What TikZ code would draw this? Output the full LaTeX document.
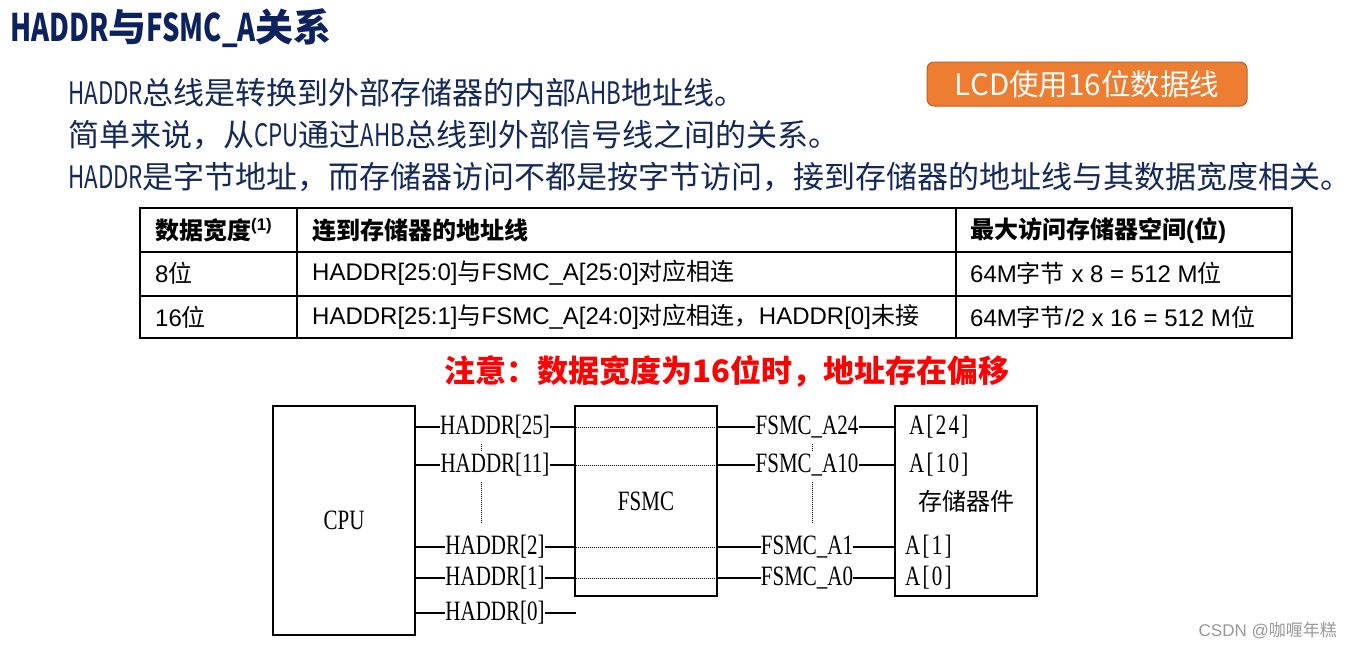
\documentclass[tikz,border=0pt]{standalone}
\usepackage{fontspec}
\setmainfont{Noto Sans CJK SC}
\newfontfamily\cjk{Noto Sans CJK SC}
\newfontfamily\latn[FakeStretch=0.72]{Noto Sans CJK SC}
\newfontfamily\tabfont{Liberation Sans}
\newfontfamily\sigfont[FakeStretch=0.75]{Liberation Serif}
\newcommand{\zh}[1]{{\cjk #1}}
\newcommand{\en}[1]{{\latn #1}}
\definecolor{titlenavy}{HTML}{0B225E}
\definecolor{bodynavy}{HTML}{14285A}
\definecolor{lcdorange}{HTML}{ED7D31}
\definecolor{lcdedge}{HTML}{B8612A}
\definecolor{notered}{HTML}{FF0000}
\usetikzlibrary{positioning}

\begin{document}
\begin{tikzpicture}[x=1pt, y=-1pt,
  heading/.style={anchor=west, inner sep=0pt, text=titlenavy, font=\bfseries\fontsize{38}{42}\selectfont},
  bodyline/.style={anchor=west, inner sep=0pt, text=bodynavy, font=\fontsize{31}{36}\selectfont},
  cell/.style={anchor=west, inner sep=0pt, font=\tabfont\fontsize{24}{28}\selectfont},
  unit/.style={draw, line width=1.3pt, minimum width=142pt, inner sep=0pt, font=\sigfont\fontsize{28}{30}\selectfont},
  sig/.style={inner sep=0pt, font=\sigfont\fontsize{28}{30}\selectfont},
  pin/.style={anchor=west, inner sep=0pt, font=\sigfont\fontsize{28}{30}\selectfont\addfontfeature{LetterSpace=8}},
  wire/.style={line width=1.2pt},
  dotwire/.style={densely dotted, line width=1pt}]
  \useasboundingbox (0,0) rectangle (1352,648);

  % heading and notes
  \node[heading] (title) at (10,28) {\en{HADDR}与\en{FSMC\_A}关系};
  \node[bodyline] (line1) at (68,93) {\en{HADDR}总线是转换到外部存储器的内部\en{AHB}地址线。};
  \node[bodyline] (line2) at (68,135) {简单来说，从\en{CPU}通过\en{AHB}总线到外部信号线之间的关系。};
  \node[bodyline] (line3) at (68,177) {\en{HADDR}是字节地址，而存储器访问不都是按字节访问，接到存储器的地址线与其数据宽度相关。};
  \node[rounded corners=7pt, fill=lcdorange, draw=lcdedge, line width=1pt, minimum width=320pt, minimum height=44pt,
    text=white, font=\fontsize{29.5}{32}\selectfont] (lcd) at (1087,84) {LCD使用16位数据线};

  % table
  \draw[line width=1.2pt] (140,208) rectangle (1292,338);
  \draw[line width=1.2pt] (140,252) -- (1292,252) (140,296) -- (1292,296)
    (297,208) -- (297,338) (956,208) -- (956,338);
  \node[cell] (th1) at (155,230) {\bfseries\zh{数据宽度}\textsuperscript{(1)}};
  \node[cell] (th2) at (312,230) {\bfseries\zh{连到存储器的地址线}};
  \node[cell] (th3) at (970,230) {\bfseries\zh{最大访问存储器空间}(\zh{位})};
  \node[cell] (r1a) at (155,273) {8\zh{位}};
  \node[cell] (r1b) at (312,273) {HADDR[25:0]\zh{与}FSMC\_A[25:0]\zh{对应相连}};
  \node[cell] (r1c) at (970,273) {64M\zh{字节} x 8 = 512 M\zh{位}};
  \node[cell] (r2a) at (155,317) {16\zh{位}};
  \node[cell] (r2b) at (312,317) {HADDR[25:1]\zh{与}FSMC\_A[24:0]\zh{对应相连，}HADDR[0]\zh{未接}};
  \node[cell] (r2c) at (970,317) {64M\zh{字节}/2 x 16 = 512 M\zh{位}};

  \node[inner sep=0pt, text=notered, font=\bfseries\fontsize{31}{34}\selectfont] (note) at (727,371)
    {注意：数据宽度为16位时，地址存在偏移};

  % blocks
  \node[unit, minimum height=229pt] (cpu) at (344,520.5) {CPU};
  \node[unit, minimum height=190pt] (fsmc) at (646,501) {FSMC};
  \node[unit, minimum height=190pt, font=\cjk\fontsize{24}{26}\selectfont] (mem) at (966,501) {存储器件};

  % address lines
  \foreach \hn/\an/\y/\mx/\r in {25/24/427/909/a, 11/10/465/909/b, 2/1/547/905/c, 1/0/578/905/d}{
    \node[sig] (h\r) at (495,\y) {HADDR[\hn]};
    \node[sig] (f\r) at (807,\y) {FSMC\_A\an};
    \node[pin] (p\r) at (\mx,\y) {A[\an]};
    \draw[wire] (cpu.east |- h\r) -- (h\r.west) (h\r.east) -- (fsmc.west |- h\r);
    \draw[dotwire] (fsmc.west |- h\r) -- (fsmc.east |- h\r);
    \draw[wire] (fsmc.east |- f\r) -- (f\r.west) (f\r.east) -- (mem.west |- f\r);
  }
  \node[sig] (hz) at (495,613) {HADDR[0]};
  \coordinate (hzend) at (576,613);
  \draw[wire] (cpu.east |- hz) -- (hz.west) (hz.east) -- (hzend);

  % skipped lines
  \draw[dotwire] (481,444) -- (481,451) (481,482) -- (481,523);
  \draw[dotwire] (812,444) -- (812,451) (812,482) -- (812,523);

  \node[anchor=east, inner sep=0pt, text=black!40, font=\tabfont\fontsize{17}{19}\selectfont] (mark) at (1337,630)
    {CSDN @\zh{咖喱年糕}};
\end{tikzpicture}
\end{document}
